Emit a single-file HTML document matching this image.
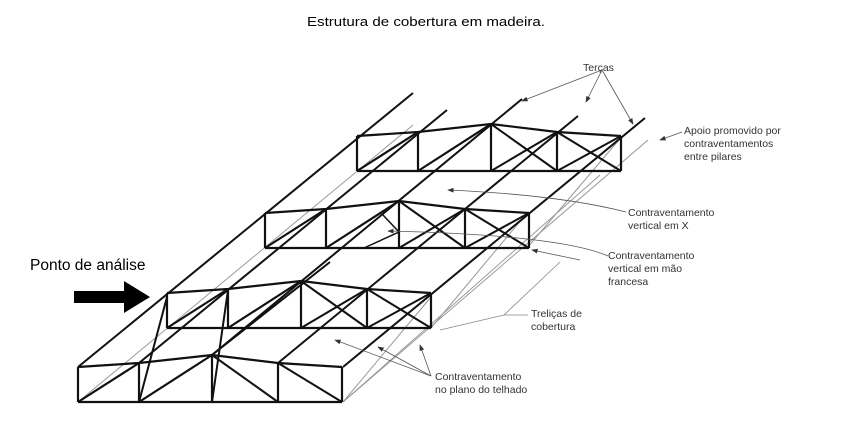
<!DOCTYPE html>
<html><head><meta charset="utf-8"><style>
html,body{margin:0;padding:0;background:#fff;}
svg{display:block}
text{font-family:"Liberation Sans",Arial,sans-serif;}
</style></head><body>
<svg width="853" height="422" viewBox="0 0 853 422" xmlns="http://www.w3.org/2000/svg">
<defs>
<g id="tr" fill="none" stroke="#111" stroke-width="2.2">
<polyline points="0,-35 61,-39 134,-47 200,-39 264,-35"/>
<line x1="0" y1="0" x2="264" y2="0"/>
<line x1="0" y1="0" x2="0" y2="-35"/><line x1="61" y1="0" x2="61" y2="-39"/>
<line x1="134" y1="0" x2="134" y2="-47"/><line x1="200" y1="0" x2="200" y2="-39"/>
<line x1="264" y1="0" x2="264" y2="-35"/>
<line x1="0" y1="0" x2="61" y2="-39"/><line x1="61" y1="0" x2="134" y2="-47"/>
</g>
<g id="x" fill="none" stroke="#111" stroke-width="2">
<line x1="134" y1="-47" x2="200" y2="0"/><line x1="134" y1="0" x2="200" y2="-39"/>
<line x1="200" y1="-39" x2="264" y2="0"/><line x1="200" y1="0" x2="264" y2="-35"/>
</g>
<marker id="ah" markerWidth="8" markerHeight="6" refX="7" refY="3" orient="auto"><path d="M0,0 L8,3 L0,6 z" fill="#333"/></marker>
</defs>
<text x="426" y="26" font-size="13" text-anchor="middle" textLength="238" lengthAdjust="spacingAndGlyphs">Estrutura de cobertura em madeira.</text>

<g stroke="#999" stroke-width="1" fill="none">
<line x1="78" y1="402" x2="413" y2="125"/>
<line x1="343" y1="402" x2="648" y2="140"/>
<line x1="139" y1="402" x2="167" y2="297"/>
<line x1="343" y1="402" x2="431" y2="297"/>
<line x1="431" y1="328" x2="527" y2="213"/>
<line x1="527" y1="248" x2="618" y2="141"/>
<line x1="343" y1="402" x2="600" y2="175"/>
</g>
<g stroke="#111" stroke-width="2">
<line x1="78" y1="367" x2="413" y2="93"/>
<line x1="139" y1="363" x2="447" y2="110"/>
<line x1="212" y1="355" x2="522" y2="99"/>
<line x1="278" y1="363" x2="578" y2="116"/>
<line x1="343" y1="367" x2="645" y2="118"/>
</g>
<use href="#tr" transform="translate(78,402)"/>
<g fill="none" stroke="#111" stroke-width="2">
<line x1="212" y1="355" x2="278" y2="402"/><line x1="278" y1="363" x2="342" y2="402"/>
<line x1="139" y1="402" x2="167" y2="297"/>
<line x1="212" y1="402" x2="228" y2="290"/>
<line x1="212" y1="355" x2="330" y2="262"/>
</g>
<use href="#tr" transform="translate(167,328)"/><use href="#x" transform="translate(167,328)"/>
<use href="#tr" transform="translate(265,248)"/><use href="#x" transform="translate(265,248)"/>
<g fill="none" stroke="#111" stroke-width="1.5"><polyline points="364,248 399,232 383,215"/></g>
<use href="#tr" transform="translate(357,171)"/><use href="#x" transform="translate(357,171)"/>

<g stroke="#555" stroke-width="0.8" fill="none" marker-end="url(#ah)">
<line x1="602" y1="70" x2="522" y2="101"/>
<line x1="602" y1="70" x2="586" y2="102"/>
<line x1="602" y1="70" x2="633" y2="124"/>
<line x1="682" y1="132" x2="660" y2="140"/>
<path d="M626 212 Q560 195 448 190"/>
<path d="M608 256 Q560 235 388 231"/>
<line x1="580" y1="260" x2="532" y2="250"/>
<path d="M431 376 L335 340"/><path d="M431 376 L378 347"/><path d="M431 376 L420 345"/>
</g>
<g stroke="#888" stroke-width="0.8" fill="none">
<polyline points="560,262 504,315 528,315"/>
<polyline points="504,315 440,330"/>
</g>

<rect x="74" y="291" width="52" height="12" fill="#000"/>
<polygon points="124,281 150,297 124,313" fill="#000"/>
<text x="30" y="270" font-size="15.5">Ponto de análise</text>

<g font-size="10.5" fill="#333">
<text x="583" y="71">Terças</text>
<text x="684" y="134">Apoio promovido por</text>
<text x="684" y="147">contraventamentos</text>
<text x="684" y="160">entre pilares</text>
<text x="628" y="216">Contraventamento</text>
<text x="628" y="229">vertical em X</text>
<text x="608" y="259">Contraventamento</text>
<text x="608" y="272">vertical em mão</text>
<text x="608" y="285">francesa</text>
<text x="531" y="317">Treliças de</text>
<text x="531" y="330">cobertura</text>
<text x="435" y="380">Contraventamento</text>
<text x="435" y="393">no plano do telhado</text>
</g>
</svg>
</body></html>
